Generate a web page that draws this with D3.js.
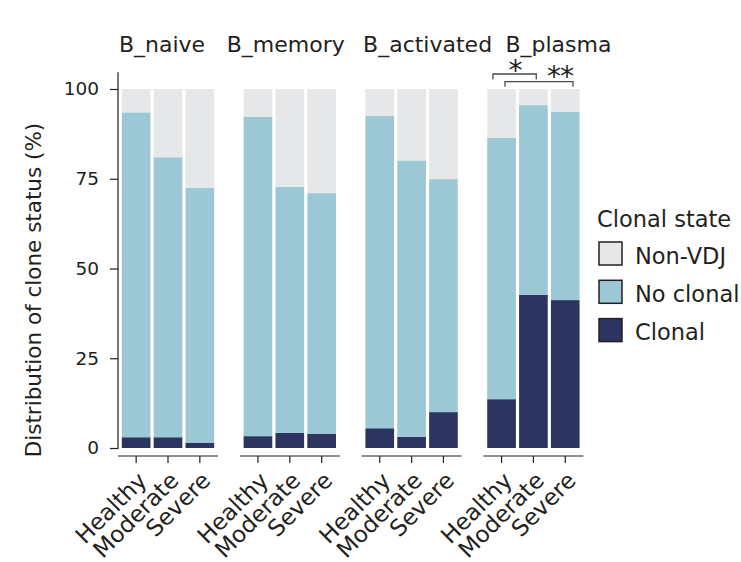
<!DOCTYPE html>
<html>
<head>
    <title>Clonal state by B cell subset</title>
    <script src="https://cdnjs.cloudflare.com/ajax/libs/d3/7.8.5/d3.min.js"></script>
    <style>
        body { margin: 0; background: #fff; }
        svg text { font-family: "DejaVu Sans", sans-serif; fill: #231f20; }
        .axis line, .axis path { stroke: #231f20; stroke-width: 1.2; }
    </style>
</head>
<body>
    <div id="chart"></div>
    <script>
        // Data (percent of cells)
        const cellTypes = ['B_naive', 'B_memory', 'B_activated', 'B_plasma'];
        const groups = ['Healthy', 'Moderate', 'Severe'];
        const states = ['Clonal', 'No clonal', 'Non-VDJ'];
        const clonal = [
            [3.0, 3.0, 1.5],
            [3.3, 4.2, 4.0],
            [5.5, 3.1, 10.0],
            [13.6, 42.7, 41.2]
        ];
        const noClonal = [
            [90.5, 78.0, 71.0],
            [88.9, 68.6, 67.0],
            [87.0, 77.0, 64.9],
            [72.8, 52.8, 52.5]
        ];
        const nonVDJ = [
            [6.5, 19.0, 27.5],
            [7.8, 27.2, 29.0],
            [7.5, 19.9, 25.1],
            [13.6, 4.5, 6.3]
        ];
        const yTicks = [0, 25, 50, 75, 100];
        // significance marks on B_plasma
        const sigPairs = [['Healthy', 'Moderate'], ['Healthy', 'Severe']];
        const sigLabels = ['*', '**'];

        const colors = { 'Clonal': '#2d3460', 'No clonal': '#9cc8d5', 'Non-VDJ': '#e6e7e9' };

        const width = 741, height = 562;
        const svg = d3.select('#chart').append('svg')
            .attr('width', width)
            .attr('height', height);

        const yScale = d3.scaleLinear().domain([0, 100]).range([448, 89]);

        const panelScale = d3.scaleBand()
            .domain(cellTypes)
            .range([118, 583.4])
            .paddingInner(0.179);

        const xScale = d3.scaleBand()
            .domain(groups)
            .range([0, panelScale.bandwidth()])
            .paddingInner(0.1)
            .paddingOuter(0.12);

        // rows for the stack
        const rows = [];
        cellTypes.forEach((ct, i) => {
            groups.forEach((g, j) => {
                rows.push({ cellType: ct, group: g,
                    'Clonal': clonal[i][j], 'No clonal': noClonal[i][j], 'Non-VDJ': nonVDJ[i][j] });
            });
        });
        const series = d3.stack().keys(states)(rows);

        // bars
        svg.append('g').selectAll('g')
            .data(series)
            .enter()
            .append('g')
            .attr('fill', d => colors[d.key])
            .selectAll('rect')
            .data(d => d)
            .enter()
            .append('rect')
            .attr('x', d => panelScale(d.data.cellType) + xScale(d.data.group))
            .attr('y', d => yScale(d[1]))
            .attr('width', xScale.bandwidth())
            .attr('height', d => yScale(d[0]) - yScale(d[1]));

        // y axis
        const yAxis = svg.append('g')
            .attr('class', 'axis')
            .attr('transform', `translate(${panelScale.range()[0]},0)`)
            .call(d3.axisLeft(yScale).tickValues(yTicks).tickSize(8).tickPadding(11));
        yAxis.select('.domain').remove();
        yAxis.append('line')
            .attr('y1', yScale(104.7))
            .attr('y2', yScale(-0.3));
        yAxis.selectAll('text')
            .style('font-size', '18.5px')
            .attr('fill', '#231f20');

        svg.append('text')
            .attr('transform', `translate(41,${yScale(44)}) rotate(-90)`)
            .attr('text-anchor', 'middle')
            .style('font-size', '21.5px')
            .text('Distribution of clone status (%)');

        // x axes, one per panel
        const titleDx = [-6, -4, 16, 25];
        cellTypes.forEach((ct, i) => {
            const g = svg.append('g')
                .attr('class', 'axis')
                .attr('transform', `translate(${panelScale(ct)},456)`);
            g.append('line')
                .attr('x1', 0)
                .attr('x2', panelScale.bandwidth());
            g.selectAll('.tick')
                .data(groups)
                .enter()
                .append('line')
                .attr('x1', d => xScale(d) + xScale.bandwidth() / 2)
                .attr('x2', d => xScale(d) + xScale.bandwidth() / 2)
                .attr('y1', 0)
                .attr('y2', 7);
            g.selectAll('.xlab')
                .data(groups)
                .enter()
                .append('text')
                .attr('text-anchor', 'end')
                .attr('transform', d => `translate(${xScale(d) + xScale.bandwidth() / 2 + 12},26) rotate(-45)`)
                .style('font-size', '23px')
                .text(d => d);

            // panel title
            svg.append('text')
                .attr('x', panelScale(ct) + panelScale.bandwidth() / 2 + titleDx[i])
                .attr('y', 52)
                .attr('text-anchor', 'middle')
                .style('font-size', '22px')
                .text(ct);
        });

        // significance brackets
        const plasmaX = panelScale('B_plasma');
        const sigGeom = [
            { f1: 0.2, f2: 0.6, y: 74, drop: 5.5, tx: 515, ty: 80 },
            { f1: 0.62, f2: 0.77, y: 81.7, drop: 5, tx: 560, ty: 86 }
        ];
        sigPairs.forEach((p, i) => {
            const s = sigGeom[i];
            const x1 = plasmaX + xScale(p[0]) + xScale.bandwidth() * s.f1;
            const x2 = plasmaX + xScale(p[1]) + xScale.bandwidth() * s.f2;
            svg.append('path')
                .attr('d', `M${x1},${s.y + s.drop}V${s.y}H${x2}V${s.y + s.drop}`)
                .attr('fill', 'none')
                .attr('stroke', '#4a4a4a')
                .attr('stroke-width', 1.3);
            svg.append('text')
                .attr('x', s.tx)
                .attr('y', s.ty)
                .attr('text-anchor', 'middle')
                .style('font-size', '28px')
                .style('letter-spacing', '-1px')
                .text(sigLabels[i]);
        });

        // legend
        const legend = svg.append('g').attr('transform', 'translate(597,0)');
        legend.append('text')
            .attr('x', 0)
            .attr('y', 227)
            .style('font-size', '22.5px')
            .text('Clonal state');
        const legendOrder = ['Non-VDJ', 'No clonal', 'Clonal'];
        const item = legend.selectAll('.item')
            .data(legendOrder)
            .enter()
            .append('g')
            .attr('transform', (d, i) => `translate(0,${242 + i * 38.3})`);
        item.append('rect')
            .attr('x', 2)
            .attr('width', 23)
            .attr('height', 23)
            .attr('fill', d => colors[d])
            .attr('stroke', '#231f20')
            .attr('stroke-width', 1.5);
        item.append('text')
            .attr('x', 38)
            .attr('y', 21.5)
            .style('font-size', '22.5px')
            .text(d => d);
    </script>
</body>
</html>
